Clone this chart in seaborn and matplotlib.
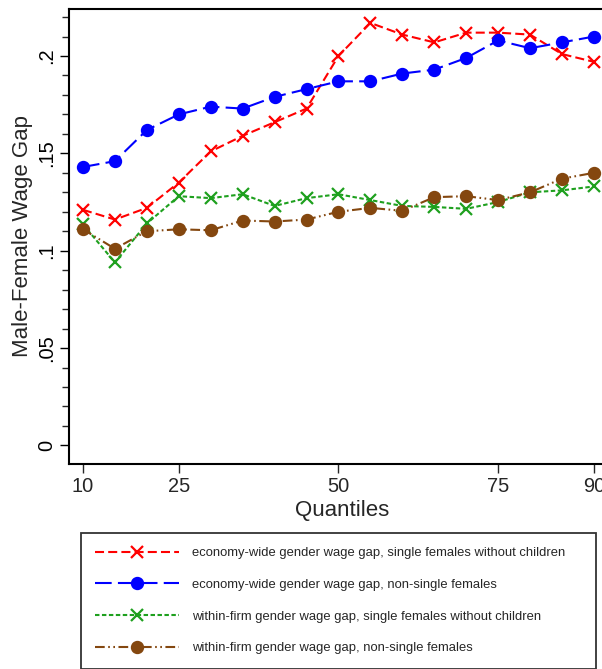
import matplotlib
matplotlib.use("Agg")
import matplotlib.pyplot as plt
import seaborn as sns
import pandas as pd

quantiles = [10, 15, 20, 25, 30, 35, 40, 45, 50, 55, 60, 65, 70, 75, 80, 85, 90]
econ_single = [0.121, 0.116, 0.122, 0.135, 0.151, 0.159, 0.166, 0.173, 0.200, 0.217,
               0.211, 0.207, 0.212, 0.212, 0.211, 0.201, 0.197]
econ_nonsingle = [0.143, 0.146, 0.162, 0.170, 0.174, 0.173, 0.179, 0.183, 0.187, 0.187,
                  0.191, 0.193, 0.199, 0.208, 0.204, 0.207, 0.210]
firm_single = [0.1135, 0.094, 0.114, 0.128, 0.127, 0.129, 0.123, 0.127, 0.129, 0.126,
               0.123, 0.1225, 0.1215, 0.125, 0.130, 0.131, 0.133]
firm_nonsingle = [0.111, 0.101, 0.110, 0.111, 0.1105, 0.1155, 0.115, 0.116, 0.120, 0.122,
                  0.1205, 0.1275, 0.128, 0.126, 0.130, 0.137, 0.140]

labels = [
    "economy-wide gender wage gap, single females without children",
    "economy-wide gender wage gap, non-single females",
    "within-firm gender wage gap, single females without children",
    "within-firm gender wage gap, non-single females",
]
series = [econ_single, econ_nonsingle, firm_single, firm_nonsingle]
colors = ["#ff0000", "#0000ff", "#1ea01e", "#84470f"]
markers = ["x", "o", "x", "o"]
msizes = [8, 8, 8, 8]
styles = [(0, (6.5, 3)), (0, (12, 4.5)), (0, (3.2, 1.8)),
          (0, (7, 2.5, 1.2, 2.5, 1.2, 2.5))]

ytick_vals = [0, 0.05, 0.1, 0.15, 0.2]
ytick_labels = ["0", ".05", ".1", ".15", ".2"]
xtick_vals = [10, 25, 50, 75, 90]

sns.set_style("ticks")
plt.rcParams["font.family"] = ["Liberation Sans", "DejaVu Sans"]
plt.rcParams["lines.scale_dashes"] = False

W, H = 602, 669
fig = plt.figure(figsize=(W / 100, H / 100), dpi=100)
ax_l, ax_r, ax_t, ax_b = 69, 615, 8.7, 464
ax = fig.add_axes([ax_l / W, 1 - ax_b / H, (ax_r - ax_l) / W, (ax_b - ax_t) / H])

for vals, lab, c, m, ms, ls in zip(series, labels, colors, markers, msizes, styles):
    df = pd.DataFrame({"q": quantiles, "gap": vals})
    sns.lineplot(data=df, x="q", y="gap", ax=ax, color=c, marker=m, markersize=ms,
                 markeredgecolor=c, markeredgewidth=1.6, linestyle=ls, linewidth=1.5,
                 label=lab, legend=False)

ax.set_xlim(7.81, 93.3)
ax.set_ylim(-0.00955, 0.2243)
ax.set_xticks(xtick_vals)
ax.set_yticks(ytick_vals, labels=ytick_labels)
ax.set_yticks([i / 100 for i in range(0, 23)], minor=True)
ax.tick_params(axis="y", which="major", length=6.5, width=1.0, labelsize=14.4,
               labelrotation=90, pad=3, direction="out", colors="black")
ax.tick_params(axis="y", which="minor", length=5, width=1.0, direction="out")
ax.tick_params(axis="x", which="major", length=6.5, width=1.0, labelsize=14.4,
               pad=3, direction="out")
for t in ax.get_yticklabels():
    t.set_va("center")
for sp in ax.spines.values():
    sp.set_linewidth(1.5)
    sp.set_color("black")

ax.set_xlabel("Quantiles", fontsize=16, labelpad=3)
ax.set_ylabel("Male-Female Wage Gap", fontsize=16, labelpad=2.5)

handles, labs = ax.get_legend_handles_labels()
leg = fig.legend(handles, labs, loc="upper left",
                 bbox_to_anchor=(80.7 / W, 0, (596 - 80.7) / W, 1 - 532.7 / H),
                 bbox_transform=fig.transFigure, mode="expand", ncol=1,
                 fontsize=9.4, handlelength=6.4, handletextpad=1.0,
                 borderpad=1.1, labelspacing=1.5, borderaxespad=0,
                 fancybox=False, frameon=True, numpoints=1)
leg.get_frame().set_edgecolor("black")
leg.get_frame().set_linewidth(1.3)

fig.savefig("out.png", dpi=100, facecolor="white")
